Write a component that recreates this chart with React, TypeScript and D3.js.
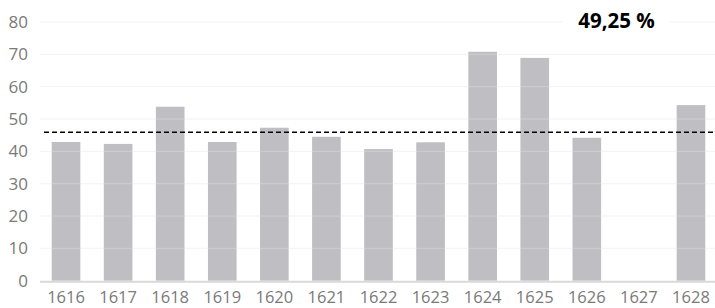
import React from 'react'
import * as d3 from 'd3'

// values
const years = ['1616', '1617', '1618', '1619', '1620', '1621', '1622', '1623', '1624', '1625', '1626', '1627', '1628']
const values = [42.9, 42.3, 53.8, 42.9, 47.3, 44.5, 40.7, 42.8, 70.8, 68.9, 44.2, 0, 54.3]
const yTicks = [0, 10, 20, 30, 40, 50, 60, 70, 80]
const avgLine = 45.9
const badge = '49,25 %'

const W = 715
const H = 308
const font = '"Open Sans", "DejaVu Sans", sans-serif'

export default function App() {
  /* scales */
  const x = d3.scaleBand<string>()
    .domain(years)
    .range([40, 717])
    .paddingInner(0.45)
    .paddingOuter(0.225)
  const y = d3.scaleLinear().domain([0, 80]).range([280.7, 22])

  return (
    <svg width={W} height={H} style={{ position: 'absolute', left: 0, top: 0 }} fontFamily={font}>
      <rect width={W} height={H} fill="#fff" />

      {/* gridlines behind */}
      {yTicks.slice(1).map(t => (
        <line key={'g' + t} x1={40} x2={717} y1={y(t)} y2={y(t)} stroke="#f0f0f0" strokeWidth={1} />
      ))}

      {/* bars */}
      {years.map((yr, i) => values[i] > 0 && (
        <rect key={yr} x={x(yr)} y={y(values[i])} width={x.bandwidth()} height={y(0) - y(values[i])} fill="#bfbec3" />
      ))}

      {/* gridlines show faintly over bars */}
      {yTicks.slice(1).map(t => (
        <line key={'o' + t} x1={40} x2={717} y1={y(t)} y2={y(t)} stroke="#fff" strokeOpacity={0.25} strokeWidth={1} />
      ))}

      {/* y labels */}
      {yTicks.map(t => (
        <text key={'l' + t} x={28} y={y(t)} dy="0.35em" textAnchor="end" fontSize={17} fill="#7a7a7a">{t}</text>
      ))}

      {/* x axis */}
      <line x1={40} x2={717} y1={y(0) + 1} y2={y(0) + 1} stroke="#d9d9d9" strokeWidth={2} />
      {years.map(yr => (
        <text key={'x' + yr} x={(x(yr) ?? 0) + x.bandwidth() / 2} y={303} textAnchor="middle" fontSize={16.5} fill="#7a7a7a">{yr}</text>
      ))}

      {/* average line */}
      <line x1={44} x2={717} y1={y(avgLine)} y2={y(avgLine)} stroke="#000" strokeWidth={1.3} strokeDasharray="5,3" />

      {/* badge */}
      <rect x={563} y={8} width={107} height={28} fill="#fff" />
      <text x={616.5} y={27.5} textAnchor="middle" fontSize={20.5} fontWeight="bold" fill="#000">{badge}</text>
    </svg>
  )
}
